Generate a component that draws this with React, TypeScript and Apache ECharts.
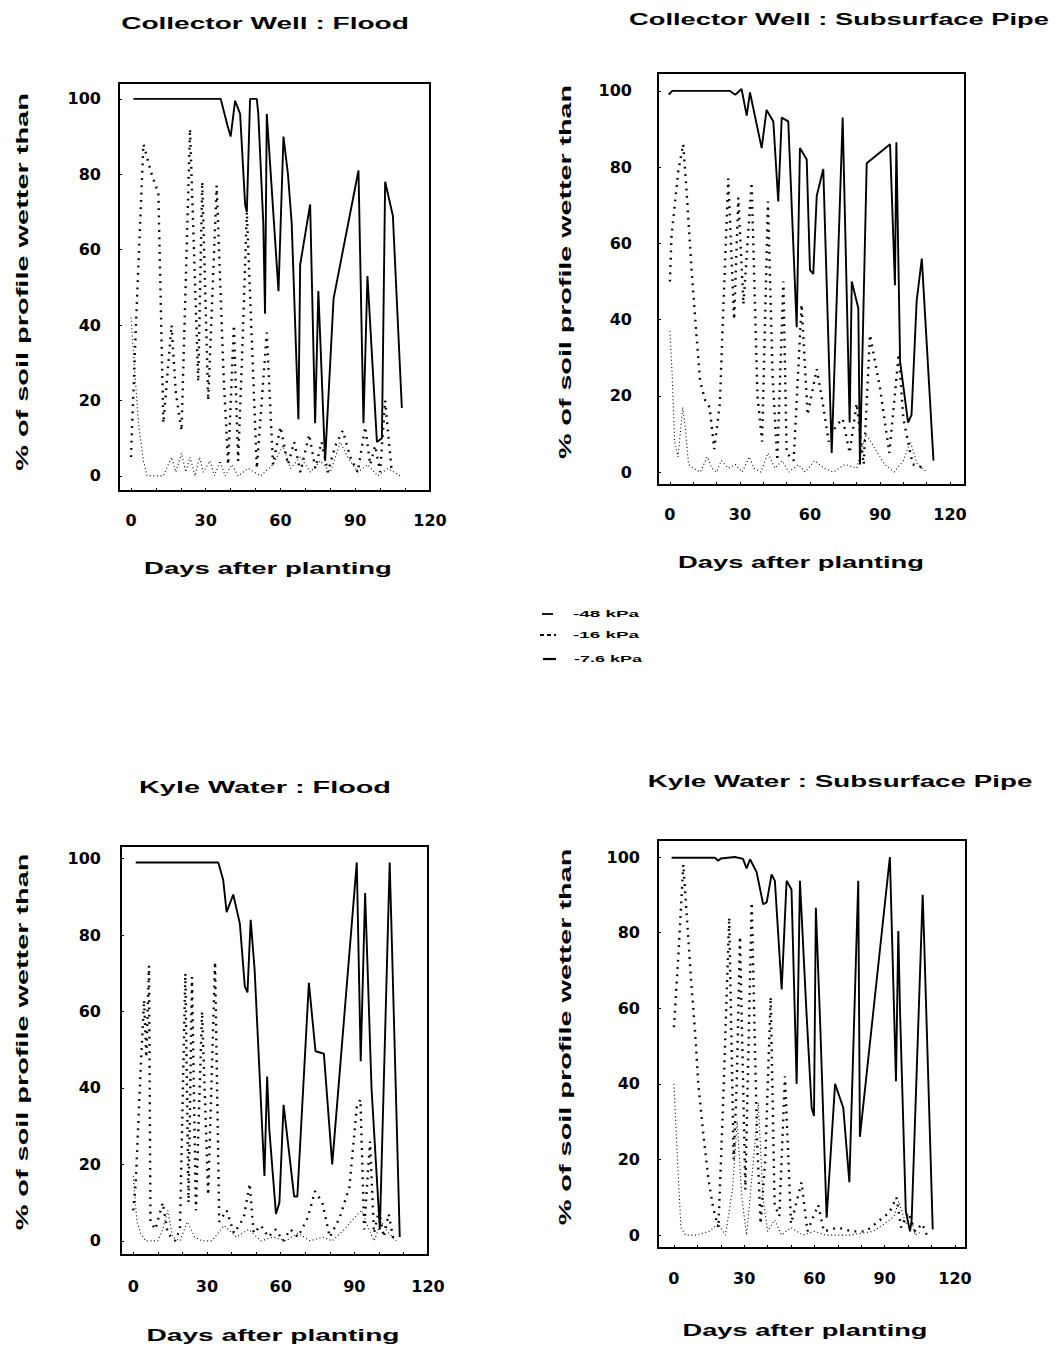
import React, { useEffect, useRef } from "react";
import * as echarts from "echarts";

// ---------- labels ----------
const seriesNames = ["-48 kPa", "-16 kPa", "-7.6 kPa"];
const panelTitles = [
  "Collector Well : Flood",
  "Collector Well : Subsurface Pipe",
  "Kyle Water : Flood",
  "Kyle Water : Subsurface Pipe",
];
const xAxisTitle = "Days after planting";
const yAxisTitle = "% of soil profile wetter than";
const xTickLabels = [0, 30, 60, 90, 120];
const yTickLabels = [0, 20, 40, 60, 80, 100];
const xMinorTicks = [0, 10, 20, 30, 40, 50, 60, 70, 80, 90, 100, 110, 120];

// ---------- data: [day, % of profile] ----------
// Collector Well : Flood
const cwFlood48: [number, number][] = [
  [1, 100], [36, 100], [38.7, 93], [40, 90], [41.8, 99.5], [43.8, 96], [45.8, 72], [46.5, 70],
  [47.8, 100], [50.5, 100], [51.1, 96], [53.1, 67], [53.8, 43], [54.5, 96], [59.2, 49], [61.2, 90],
  [63, 80], [64.5, 67], [67.2, 15], [67.9, 56], [71.9, 72], [73.9, 14], [75.2, 49], [77.9, 4],
  [81.3, 47], [91.3, 81], [93.3, 14], [94.9, 53], [98.7, 9], [100.7, 10], [102, 78], [105.1, 69],
  [108.7, 18],
];
const cwFlood16: [number, number][] = [
  [0, 5], [2, 40], [5, 88], [8.3, 80], [11, 75], [13, 14], [16.3, 40], [18, 22], [20.3, 12],
  [23.7, 92], [27, 25], [28.6, 78], [31, 20], [34.4, 77], [37.2, 26], [39, 3], [41.3, 40], [43, 4],
  [44.5, 30], [46.5, 70], [50.5, 2], [54.5, 38], [57, 3], [60, 13], [63, 3], [65.5, 9], [68, 1],
  [71.5, 11], [74, 2], [76.5, 9], [79, 1], [82, 8], [85, 12], [88, 5], [91, 1], [94, 13], [96, 3],
  [98, 8], [100, 1], [102, 20], [104.5, 2],
];
const cwFlood76: [number, number][] = [
  [0, 42], [1.5, 28], [3, 14], [5, 4], [6.5, 0], [13, 0], [16.3, 5], [18, 1], [20.3, 6], [22, 1],
  [23.7, 5], [25.7, 0], [27.5, 5], [29, 1], [31.7, 4], [33.5, 0], [35.7, 4], [37.8, 0], [40.5, 3],
  [43, 0], [47, 2], [52, 0], [57, 3], [61, 8], [64, 2], [68, 5], [72, 1], [76, 4], [80, 1], [84, 9],
  [87, 5], [91, 1], [95, 3], [99, 0], [103, 2], [108, 0],
];
// Collector Well : Subsurface Pipe
const cwPipe48: [number, number][] = [
  [-0.5, 99], [1, 100], [25.7, 100], [28, 99], [30.7, 100.5], [32.9, 93.5], [34.3, 99.6], [39.3, 85],
  [41.4, 95], [44.3, 92], [46.4, 71], [47.9, 93], [50.7, 92], [54.3, 38], [55.7, 85], [58.6, 82],
  [60, 53], [61.4, 52], [62.9, 72.5], [65.7, 79.5], [69.3, 5], [74, 93], [77, 13], [77.9, 50],
  [80.7, 43], [81.4, 2], [84.3, 81], [94.3, 86], [96.4, 49], [97, 86.5], [98.6, 29], [102, 13],
  [103.5, 15], [105.7, 45], [107.9, 56], [112.9, 3],
];
const cwPipe16: [number, number][] = [
  [0, 50], [0.7, 62], [3.6, 79], [5.7, 86], [7, 75], [9.3, 53], [11, 39], [12.9, 24], [15, 19],
  [17, 17], [19, 6], [21.4, 18], [23, 45], [25, 77], [27.5, 40], [29.3, 72], [31.5, 44], [35, 76],
  [37.5, 20], [39.5, 8], [42, 71], [44, 25], [46, 3], [48.6, 50], [50, 5], [53, 3], [56.4, 44],
  [59, 15], [62.9, 27], [65.5, 18], [68, 8], [71, 12], [74, 14], [77, 5], [80, 18], [83, 2],
  [85.7, 36], [90, 22], [94, 5], [98, 31], [100, 14], [104, 2], [109, 1],
];
const cwPipe76: [number, number][] = [
  [0, 37], [1, 25], [2, 8], [3.5, 4], [5.5, 17], [6.5, 12], [8, 2], [10, 1], [13, 0], [16, 4],
  [18, 1], [20, 0], [22, 3], [25, 1], [28, 2], [31, 0], [34, 4], [36, 1], [39, 0], [42, 5], [45, 1],
  [48, 3], [51, 0], [55, 2], [58, 0], [62, 3], [66, 1], [70, 0], [75, 2], [80, 1], [84, 10], [88, 6],
  [92, 2], [96, 0], [100, 3], [103, 8], [106, 2], [110, 0],
];
// Kyle Water : Flood
const kwFlood48: [number, number][] = [
  [1, 99], [34.6, 99], [36.6, 94.5], [38, 86], [40.7, 90.6], [43.4, 83], [45.4, 66.6], [46.5, 65],
  [47.8, 84], [49.4, 71], [53.4, 17], [54.5, 43], [55.4, 29], [58.1, 7], [59.5, 10], [61.2, 35.6],
  [65.5, 11.6], [66.8, 11.6], [71.5, 67.5], [74.2, 49.6], [77.6, 49], [81, 20], [91, 99], [92.6, 47],
  [94.4, 91], [97, 40], [100.4, 3], [104.4, 99], [105, 85], [108.5, 1],
];
const kwFlood16: [number, number][] = [
  [0, 8], [1, 15], [3, 45], [4.4, 63], [5.3, 48], [6.4, 72], [7, 5], [9, 3], [12, 10], [14, 2],
  [17, 0], [19, 3], [21.2, 70], [22.5, 10], [23.9, 69], [25.5, 8], [28, 60], [30.5, 12], [33.3, 73],
  [35, 5], [38, 8], [41, 2], [45, 6], [47.4, 15], [49, 2], [52, 4], [55, 1], [58, 3], [61, 0],
  [64, 3], [67, 1], [71, 6], [74, 13], [77, 10], [80, 1], [84, 6], [88, 14], [91, 35], [92.5, 37],
  [94, 3], [96.4, 26], [98, 2], [100, 8], [102, 1], [104, 7], [106, 0],
];
const kwFlood76: [number, number][] = [
  [0, 17], [1.5, 5], [3, 2], [5, 0], [10, 0], [12, 3], [14, 8], [16, 1], [19, 0], [22, 5], [25, 1],
  [28, 0], [32, 0], [37, 4], [42, 1], [47, 3], [52, 0], [57, 1], [62, 0], [67, 2], [72, 0], [77, 1],
  [81, 0], [86, 3], [90, 6], [93, 8], [96, 3], [98, 0], [101, 5], [104, 2], [107, 0],
];
// Kyle Water : Subsurface Pipe
const kwPipe48: [number, number][] = [
  [-1, 99.8], [17.5, 99.8], [18.9, 99], [20, 99.6], [26, 100], [29.5, 99.5], [31, 97], [32.5, 99.4],
  [35.3, 96], [38.1, 87.5], [39.6, 88], [41.7, 95.4], [43.1, 93.7], [46, 65], [48.1, 93.7],
  [50.2, 91.4], [52.4, 40], [53.8, 93.7], [56.5, 60], [58.8, 33.7], [59.8, 31.5], [60.6, 86.6],
  [62.5, 55], [65.2, 4.6], [68.8, 40], [72.3, 33.7], [74.9, 14], [78.7, 93.7], [79.4, 26],
  [92.2, 100], [94.8, 40.7], [95.8, 80.4], [96.5, 60], [99, 6.3], [100.8, 1], [101.5, 4],
  [106.2, 90], [106.8, 78.7], [110.5, 1.5],
];
const kwPipe16: [number, number][] = [
  [0, 55], [2, 75], [4, 98], [7.5, 66], [9, 54], [10.4, 40], [12.5, 27], [14.7, 15], [16.8, 7],
  [19, 2], [21, 35], [23.6, 84], [25.5, 20], [26.8, 40], [28.2, 79], [30.5, 12], [33.2, 88],
  [35.5, 25], [37, 3], [39, 20], [41.3, 63], [43, 8], [45, 5], [47.4, 42], [50, 3], [54.5, 14],
  [57, 1], [61.6, 8], [64, 1], [70, 2], [76, 1], [82, 1], [88, 4], [92, 6], [95, 10], [97, 2],
  [100, 6], [103, 1], [106, 3], [108, 0],
];
const kwPipe76: [number, number][] = [
  [0, 40], [1.5, 20], [3, 2], [5, 0], [10, 0], [15, 1], [19, 3], [22, 0], [25, 12], [27, 30],
  [29, 10], [31, 0], [34, 20], [36, 35], [38, 10], [40, 1], [43, 4], [46, 0], [50, 2], [55, 0],
  [60, 1], [65, 0], [75, 0], [85, 1], [90, 3], [94, 5], [96, 9], [99, 3], [101, 5], [103, 0], [106, 1],
];

const panelData = [
  [cwFlood48, cwFlood16, cwFlood76],
  [cwPipe48, cwPipe16, cwPipe76],
  [kwFlood48, kwFlood16, kwFlood76],
  [kwPipe48, kwPipe16, kwPipe76],
];

// ---------- layout ----------
const panels = [
  { left: 119, top: 83, width: 311, height: 408, xMin: -4.8, xMax: 120, yMin: -4.0, yMax: 104.2, yMargin: 18, xMargin: 21,
    title: [265, 23, 288], xName: [268, 568, 248], yName: [22, 282, 378] },
  { left: 658, top: 73, width: 307, height: 412, xMin: -5.1, xMax: 126.4, yMin: -3.4, yMax: 104.7, yMargin: 26, xMargin: 21,
    title: [839, 19, 420], xName: [801, 562, 246], yName: [565, 272, 374] },
  { left: 121, top: 846, width: 307, height: 409, xMin: -5, xMax: 120, yMin: -3.7, yMax: 103.3, yMargin: 20, xMargin: 23,
    title: [265, 787, 252], xName: [273, 1335, 253], yName: [22, 1042, 377] },
  { left: 658, top: 840, width: 308, height: 408, xMin: -6.8, xMax: 124.7, yMin: -3.4, yMax: 104.5, yMargin: 18, xMargin: 22,
    title: [840, 781, 385], xName: [805, 1330, 245], yName: [565, 1037, 377] },
];

// legend rows: [lineX1, lineX2, y, textCenterX, textWidth]
const legendRows = [
  [542, 553, 614, 606, 66],
  [540, 556, 635, 606, 66],
  [543, 556, 659, 608, 68],
];

const lineStyles = [
  { width: 1.9, type: "solid" as any, dash: null as any },
  { width: 2.4, type: [1.8, 5.5] as any, dash: [4, 3] },
  { width: 1.1, type: [1, 2.6] as any, dash: null as any },
];

const TEXT_FONT = 'bold 17px "Liberation Sans"';
const LEGEND_FONT = 'bold 9px "Liberation Sans"';
const LABEL_FAMILY = "DejaVu Sans";

function measure(text: string, font: string): number {
  const ctx = document.createElement("canvas").getContext("2d");
  if (!ctx) return text.length * 9;
  ctx.font = font;
  return ctx.measureText(text).width || text.length * 9;
}

function stretchedText(text: string, cx: number, cy: number, w: number, rotation = 0, font = TEXT_FONT) {
  return {
    type: "text",
    x: cx,
    y: cy,
    rotation,
    scaleX: w / measure(text, font),
    style: {
      text,
      font,
      fill: "#000",
      textAlign: "center",
      textVerticalAlign: "middle",
      align: "center",
      verticalAlign: "middle",
    },
    silent: true,
  };
}

export default function App() {
  const ref = useRef<HTMLDivElement>(null);

  useEffect(() => {
    if (!ref.current) return;
    const chart = echarts.init(ref.current, undefined, { renderer: "svg" });

    const labelStyle = {
      color: "#000",
      fontFamily: LABEL_FAMILY,
      fontWeight: "bold" as any,
      fontSize: 16,
    };

    const grid = panels.map((p) => ({
      left: p.left,
      top: p.top,
      width: p.width,
      height: p.height,
      show: true,
      borderColor: "#000",
      borderWidth: 2,
      backgroundColor: "transparent",
      containLabel: false,
    }));

    const xAxis = panels.map((p, i) => ({
      type: "value",
      gridIndex: i,
      min: p.xMin,
      max: p.xMax,
      axisLine: { show: false, onZero: false },
      splitLine: { show: false },
      axisTick: {
        show: true,
        inside: true,
        length: 3,
        customValues: xMinorTicks,
        lineStyle: { color: "#000", width: 1 },
      },
      axisLabel: { ...labelStyle, margin: p.xMargin, customValues: xTickLabels },
    }));

    const yAxis = panels.map((p, i) => ({
      type: "value",
      gridIndex: i,
      min: p.yMin,
      max: p.yMax,
      axisLine: { show: false, onZero: false },
      splitLine: { show: false },
      axisTick: {
        show: true,
        inside: true,
        length: 3,
        customValues: yTickLabels,
        lineStyle: { color: "#000", width: 1 },
      },
      axisLabel: { ...labelStyle, margin: p.yMargin, customValues: yTickLabels },
    }));

    const series: any[] = [];
    panelData.forEach((set, i) => {
      set.forEach((data, k) => {
        series.push({
          type: "line",
          name: seriesNames[k],
          xAxisIndex: i,
          yAxisIndex: i,
          data,
          symbol: "none",
          showSymbol: false,
          clip: true,
          silent: true,
          lineStyle: { color: "#000", width: lineStyles[k].width, type: lineStyles[k].type },
          itemStyle: { color: "#000" },
          z: 3 - k,
        });
      });
    });

    const graphics: any[] = [];
    panels.forEach((p, i) => {
      graphics.push(stretchedText(panelTitles[i], p.title[0], p.title[1], p.title[2]));
      graphics.push(stretchedText(xAxisTitle, p.xName[0], p.xName[1], p.xName[2]));
      graphics.push(stretchedText(yAxisTitle, p.yName[0], p.yName[1], p.yName[2], Math.PI / 2));
    });
    legendRows.forEach((r, k) => {
      graphics.push({
        type: "line",
        silent: true,
        shape: { x1: r[0], y1: r[2], x2: r[1], y2: r[2] },
        style: {
          stroke: "#000",
          lineWidth: k === 2 ? 2.2 : 1.8,
          lineDash: lineStyles[k].dash,
        },
      });
      graphics.push(stretchedText(seriesNames[k], r[3], r[2], r[4], 0, LEGEND_FONT));
    });

    chart.setOption({
      animation: false,
      backgroundColor: "#fff",
      grid,
      xAxis,
      yAxis,
      series,
      graphic: graphics,
    });

    return () => chart.dispose();
  }, []);

  return (
    <div
      ref={ref}
      style={{ position: "absolute", left: 0, top: 0, width: 1058, height: 1351, background: "#fff" }}
    />
  );
}
